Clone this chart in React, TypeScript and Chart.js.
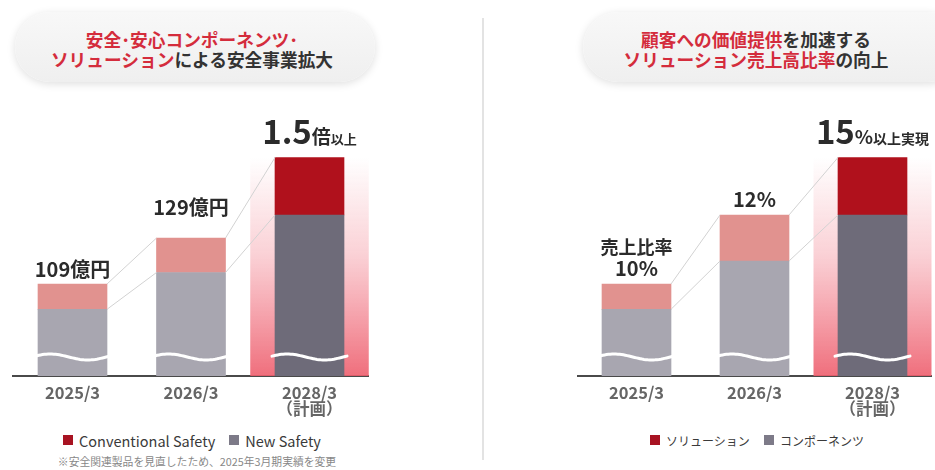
import React, { useEffect, useRef } from 'react';
import { Chart, registerables } from 'chart.js';

Chart.register(...registerables);

// ---------- data ----------
const categories: (string | string[])[] = ['2025/3', '2026/3', ['2028/3', '（計画）']];

// left panel: 安全事業 (億円)
const leftNewSafety = [98, 114, 139];
const leftConventionalSafety = [11, 15, 25];
const leftValueLabels = [['109億円'], ['129億円'], ['1.5', '倍', '以上']];
const leftLegend = ['Conventional Safety', 'New Safety'];

// right panel: ソリューション売上高比率 (relative bar heights)
const rightComponents = [29, 50, 70];
const rightSolutions = [11, 20, 25];
const rightValueLabels = [['売上比率', '10%'], ['12%'], ['15', '%', '以上実現']];
const rightLegend = ['ソリューション', 'コンポーネンツ'];

const footnote = '※安全関連製品を見直したため、2025年3月期実績を変更';

// ---------- styles ----------
const FONT = "'Noto Sans CJK JP', 'Noto Sans', sans-serif";
const LIGHT_GRAY = '#A8A6B0';
const PINK = '#E1928F';
const DARK_GRAY = '#6E6B79';
const DARK_RED = '#B0111C';
const TITLE_RED = '#D42C3C';
const TEXT_DARK = '#2b2b2b';

type Run = { text: string; size: number };

function drawRuns(ctx: CanvasRenderingContext2D, runs: Run[], cx: number, baseline: number) {
  let total = 0;
  const widths: number[] = [];
  runs.forEach((r) => {
    ctx.font = `bold ${r.size}px ${FONT}`;
    const w = ctx.measureText(r.text).width;
    widths.push(w);
    total += w;
  });
  let x = cx - total / 2;
  ctx.textAlign = 'left';
  ctx.textBaseline = 'alphabetic';
  ctx.fillStyle = TEXT_DARK;
  runs.forEach((r, i) => {
    ctx.font = `bold ${r.size}px ${FONT}`;
    ctx.fillText(r.text, x, baseline);
    x += widths[i];
  });
}

type LabelSpec = { lines: Run[][]; offset: number; lineGap: number };

function makeDecorPlugin(labelSpecs: LabelSpec[]) {
  return {
    id: 'decor',
    beforeDatasetsDraw(chart: any) {
      const ctx: CanvasRenderingContext2D = chart.ctx;
      const xs = chart.scales.x;
      const area = chart.chartArea;
      const topMeta = chart.getDatasetMeta(1);
      const last = topMeta.data.length - 1;
      const bar = topMeta.data[last];
      const catW = xs.width / chart.data.labels.length;
      const x0 = bar.x - catW / 2;
      const yTop = bar.y;
      const g = ctx.createLinearGradient(0, yTop, 0, area.bottom);
      g.addColorStop(0, 'rgba(240,110,125,0)');
      g.addColorStop(0.45, 'rgba(240,110,125,0.32)');
      g.addColorStop(1, 'rgba(238,95,110,0.9)');
      ctx.save();
      ctx.fillStyle = g;
      ctx.fillRect(x0, yTop, catW, area.bottom - yTop);
      ctx.restore();
    },
    afterDatasetsDraw(chart: any) {
      const ctx: CanvasRenderingContext2D = chart.ctx;
      const area = chart.chartArea;
      const baseMeta = chart.getDatasetMeta(0);
      const topMeta = chart.getDatasetMeta(1);
      ctx.save();
      // connector lines
      ctx.strokeStyle = '#d2d2d2';
      ctx.lineWidth = 1;
      for (let i = 0; i < topMeta.data.length - 1; i++) {
        const a = topMeta.data[i];
        const b = topMeta.data[i + 1];
        const sa = baseMeta.data[i];
        const sb = baseMeta.data[i + 1];
        ctx.beginPath();
        ctx.moveTo(a.x + a.width / 2, a.y);
        ctx.lineTo(b.x - b.width / 2, b.y);
        ctx.moveTo(sa.x + sa.width / 2, sa.y);
        ctx.lineTo(sb.x - sb.width / 2, sb.y);
        ctx.stroke();
      }
      // wavy break lines
      ctx.strokeStyle = '#ffffff';
      ctx.lineWidth = 3;
      ctx.lineCap = 'round';
      const wy = area.bottom - 19;
      baseMeta.data.forEach((el: any) => {
        const left = el.x - el.width / 2 - 3;
        const right = el.x + el.width / 2 + 3;
        const w = right - left;
        ctx.beginPath();
        for (let k = 0; k <= 40; k++) {
          const t = k / 40;
          const px = left + t * w;
          const py = wy - 3 * Math.sin(t * Math.PI * 2 + 0.3);
          if (k === 0) ctx.moveTo(px, py);
          else ctx.lineTo(px, py);
        }
        ctx.stroke();
      });
      ctx.restore();
    },
    afterDraw(chart: any) {
      const ctx: CanvasRenderingContext2D = chart.ctx;
      const topMeta = chart.getDatasetMeta(1);
      ctx.save();
      topMeta.data.forEach((el: any, i: number) => {
        const spec = labelSpecs[i];
        const n = spec.lines.length;
        spec.lines.forEach((runs, li) => {
          const baseline = el.y - spec.offset - (n - 1 - li) * spec.lineGap;
          drawRuns(ctx, runs, el.x, baseline);
        });
      });
      ctx.restore();
    },
  };
}

function buildConfig(base: number[], top: number[], min: number, max: number, padLeft: number, padRight: number, labelSpecs: LabelSpec[]) {
  return {
    type: 'bar' as const,
    data: {
      labels: categories,
      datasets: [
        {
          data: base,
          backgroundColor: [LIGHT_GRAY, LIGHT_GRAY, DARK_GRAY],
          barThickness: 69,
          borderWidth: 0,
        },
        {
          data: top,
          backgroundColor: [PINK, PINK, DARK_RED],
          barThickness: 69,
          borderWidth: 0,
        },
      ],
    },
    options: {
      animation: false as const,
      responsive: false,
      layout: { padding: { left: padLeft, right: padRight, top: 100, bottom: 4 } },
      plugins: { legend: { display: false }, tooltip: { enabled: false } },
      scales: {
        x: {
          stacked: true,
          z: 1,
          grid: { display: false },
          border: { display: true, color: '#4a4a4a', width: 2 },
          ticks: {
            color: '#666',
            padding: 0,
            font: { family: FONT, size: 16.5, weight: 'bold' as const, lineHeight: 1.0 },
            maxRotation: 0,
          },
          afterFit: (scale: any) => {
            scale.height = 50;
          },
        },
        y: {
          stacked: true,
          display: false,
          min,
          max,
        },
      },
    },
    plugins: [makeDecorPlugin(labelSpecs)],
  };
}

const leftSpecs: LabelSpec[] = [
  { lines: [[{ text: leftValueLabels[0][0], size: 20 }]], offset: 7, lineGap: 21 },
  { lines: [[{ text: leftValueLabels[1][0], size: 20 }]], offset: 23, lineGap: 21 },
  {
    lines: [[
      { text: leftValueLabels[2][0], size: 33 },
      { text: leftValueLabels[2][1], size: 19 },
      { text: leftValueLabels[2][2], size: 13 },
    ]],
    offset: 14,
    lineGap: 21,
  },
];

const rightSpecs: LabelSpec[] = [
  { lines: [[{ text: rightValueLabels[0][0], size: 18 }], [{ text: rightValueLabels[0][1], size: 20 }]], offset: 8, lineGap: 22 },
  { lines: [[{ text: rightValueLabels[1][0], size: 20 }]], offset: 8, lineGap: 21 },
  {
    lines: [[
      { text: rightValueLabels[2][0], size: 33 },
      { text: rightValueLabels[2][1], size: 19 },
      { text: rightValueLabels[2][2], size: 14 },
    ]],
    offset: 14,
    lineGap: 21,
  },
];

function Pill({ left, width }: { left: number; width: number }) {
  return (
    <div
      style={{
        position: 'absolute',
        left,
        top: 12,
        width,
        height: 70,
        borderRadius: 35,
        background: 'linear-gradient(#f8f8f8, #efefef)',
        boxShadow: '0 2px 8px rgba(0,0,0,0.13)',
      }}
    />
  );
}

function LegendItem({ color, text }: { color: string; text: string }) {
  return (
    <span style={{ display: 'inline-flex', alignItems: 'center', margin: '0 7px' }}>
      <span style={{ width: 10, height: 10, background: color, display: 'inline-block', marginRight: 6 }} />
      <span>{text}</span>
    </span>
  );
}

export default function App() {
  const leftRef = useRef<HTMLCanvasElement>(null);
  const rightRef = useRef<HTMLCanvasElement>(null);

  useEffect(() => {
    const l = new Chart(leftRef.current as HTMLCanvasElement, buildConfig(leftNewSafety, leftConventionalSafety, 69, 189, 13.25, 101.25, leftSpecs) as any);
    const r = new Chart(rightRef.current as HTMLCanvasElement, buildConfig(rightComponents, rightSolutions, 0, 120, 107.5, 3.5, rightSpecs) as any);
    return () => {
      l.destroy();
      r.destroy();
    };
  }, []);

  const titleStyle: React.CSSProperties = {
    position: 'absolute',
    top: 29,
    textAlign: 'center',
    fontFamily: FONT,
    fontWeight: 'bold',
    fontSize: 17.7,
    lineHeight: '20px',
    color: '#333',
    whiteSpace: 'nowrap',
  };
  const red: React.CSSProperties = { color: TITLE_RED };
  const legendStyle: React.CSSProperties = {
    position: 'absolute',
    top: 430,
    height: 20,
    display: 'flex',
    alignItems: 'center',
    justifyContent: 'center',
    fontFamily: FONT,
    color: '#3a3a3a',
    whiteSpace: 'nowrap',
  };

  return (
    <div style={{ position: 'absolute', left: 0, top: 0, width: 935, height: 470, overflow: 'hidden', background: '#fff' }}>
      <Pill left={15} width={360} />
      <Pill left={583} width={380} />
      <div style={{ ...titleStyle, left: 0, width: 384 }}>
        <span style={red}>安全･安心コンポーネンツ･</span>
        <br />
        <span style={red}>ソリューション</span>による安全事業拡大
      </div>
      <div style={{ ...titleStyle, left: 606, width: 300 }}>
        <span style={red}>顧客への価値提供</span>を加速する
        <br />
        <span style={red}>ソリューション売上高比率</span>の向上
      </div>
      <div style={{ position: 'absolute', left: 482, top: 18, width: 2, height: 442, background: '#e3e3e3' }} />
      <canvas ref={leftRef} width={470} height={430} style={{ position: 'absolute', left: 0, top: 0, display: 'block' }} />
      <canvas ref={rightRef} width={465} height={430} style={{ position: 'absolute', left: 470, top: 0, display: 'block' }} />
      <div style={{ ...legendStyle, left: 0, width: 384, fontSize: 14.5 }}>
        <LegendItem color="#A81322" text={leftLegend[0]} />
        <LegendItem color="#7D7A88" text={leftLegend[1]} />
      </div>
      <div style={{ ...legendStyle, left: 607, width: 300, fontSize: 12 }}>
        <LegendItem color="#A81322" text={rightLegend[0]} />
        <LegendItem color="#7D7A88" text={rightLegend[1]} />
      </div>
      <div
        style={{
          position: 'absolute',
          left: 0,
          width: 394,
          top: 453,
          textAlign: 'center',
          fontFamily: FONT,
          fontSize: 10.8,
          color: '#888',
          whiteSpace: 'nowrap',
        }}
      >
        {footnote}
      </div>
    </div>
  );
}
